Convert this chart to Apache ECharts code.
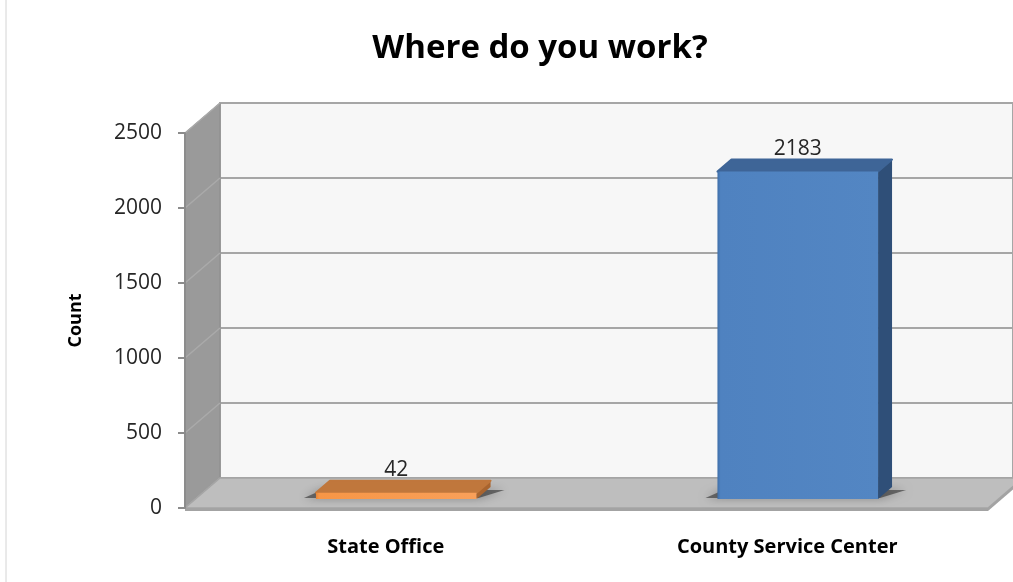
<!DOCTYPE html>
<html>
<head>
<meta charset="utf-8">
<script src="https://cdn.jsdelivr.net/npm/echarts@6/dist/echarts.min.js"></script>
<style>
  html, body { margin: 0; padding: 0; background: #ffffff; }
  #chart { width: 1013px; height: 582px; }
</style>
</head>
<body>
<div id="chart"></div>
<script>
// Survey answers: where respondents work
const categories = ['State Office', 'County Service Center'];
const counts = [42, 2183];
const yTicks = [0, 500, 1000, 1500, 2000, 2500];

// Colours for each bar: front face, top face, side face
const barPalette = [
  { front: ['#e58536', '#f79646', '#f9a05a'], top: '#c0773c', side: '#a9642e' },
  { front: ['#3f6fa9', '#4f82c0', '#5386c3'], top: '#3e6597', side: '#2f4f78' }
];

// Pseudo-3D depth of the plot box (pixels the back wall is shifted)
const DX = 35, DY = 30;
// Depth span occupied by the bars, as fractions of the box depth
const D_FRONT = 0.3, D_BACK = 0.7;
const BAR_RATIO = 0.4;
const FONT = "'Open Sans', 'Noto Sans', sans-serif";

const chart = echarts.init(document.getElementById('chart'), null, { renderer: 'canvas' });

const frontGrid = { left: 185, top: 133, width: 803, height: 375, show: false };
const backGrid = {
  left: frontGrid.left + DX, top: frontGrid.top - DY,
  width: frontGrid.width, height: frontGrid.height,
  show: true, backgroundColor: '#f7f7f7', borderColor: '#a6a6a6', borderWidth: 2
};

const yMin = yTicks[0], yMax = yTicks[yTicks.length - 1], yStep = yTicks[1] - yTicks[0];

// Side wall and floor of the box, built from the front axes
function renderFrame(params, api) {
  const cs = params.coordSys;
  const L = cs.x, R = cs.x + cs.width, T = cs.y, B = cs.y + cs.height;
  const children = [];
  children.push({
    type: 'polygon',
    shape: { points: [[L, T], [L + DX, T - DY], [L + DX, B - DY], [L, B]] },
    style: { fill: '#9a9a9a', stroke: '#8c8c8c', lineWidth: 1 }
  });
  yTicks.forEach(function (t) {
    const y = api.coord([0, t])[1];
    children.push({
      type: 'line',
      shape: { x1: L, y1: y, x2: L + DX, y2: y - DY },
      style: { stroke: '#aaaaaa', lineWidth: 1.5 }
    });
  });
  // floor slab: top, front edge, right edge
  children.push({
    type: 'polygon',
    shape: { points: [[L, B], [L + DX, B - DY], [R + DX, B - DY], [R, B]] },
    style: { fill: '#bebebe', stroke: '#a5a5a5', lineWidth: 1.5 }
  });
  children.push({
    type: 'polygon',
    shape: { points: [[L, B], [R, B], [R, B + 3], [L, B + 3]] },
    style: { fill: '#a3a3a3' }
  });
  children.push({
    type: 'polygon',
    shape: { points: [[R, B], [R + DX, B - DY], [R + DX, B - DY + 3], [R, B + 3]] },
    style: { fill: '#a3a3a3' }
  });
  return { type: 'group', children: children };
}

// Box-shaped bar with front, top and side faces plus a soft floor shadow
function renderBar(params, api) {
  const i = api.value(0), v = api.value(1);
  const base = api.coord([i, 0]);
  const top = api.coord([i, v]);
  const band = api.size([1, 0])[0];
  const w = band * BAR_RATIO;
  const fx = base[0] - w / 2 + D_FRONT * DX;
  const fy0 = base[1] - D_FRONT * DY;
  const fy1 = top[1] - D_FRONT * DY;
  const bx = (D_BACK - D_FRONT) * DX, by = (D_BACK - D_FRONT) * DY;
  const pal = barPalette[params.dataIndex];
  return {
    type: 'group',
    children: [
      {
        type: 'polygon',
        shape: { points: [[fx - 12, fy0 - 1], [fx + w + 2, fy0 - 1], [fx + w + bx + 14, fy0 - by + 3], [fx + bx - 8, fy0 - by + 3]] },
        style: { fill: 'rgba(35,35,35,0.55)', shadowBlur: 10, shadowColor: 'rgba(0,0,0,0.6)' }
      },
      {
        type: 'polygon',
        shape: { points: [[fx + w, fy1], [fx + w + bx, fy1 - by], [fx + w + bx, fy0 - by], [fx + w, fy0]] },
        style: { fill: pal.side }
      },
      {
        type: 'polygon',
        shape: { points: [[fx, fy1], [fx + w, fy1], [fx + w + bx, fy1 - by], [fx + bx, fy1 - by]] },
        style: { fill: pal.top, stroke: pal.top, lineWidth: 2, lineJoin: 'round' }
      },
      {
        type: 'rect',
        shape: { x: fx, y: fy1, width: w, height: Math.max(fy0 - fy1, 0) },
        style: {
          fill: new echarts.graphic.LinearGradient(0, 0, 1, 0, [
            { offset: 0, color: pal.front[0] },
            { offset: 0.02, color: pal.front[1] },
            { offset: 1, color: pal.front[2] }
          ])
        }
      },
      {
        type: 'text',
        style: {
          x: fx + w / 2, y: fy1 - by - 11,
          text: String(v),
          fill: '#262626', font: '21px ' + FONT,
          align: 'center', verticalAlign: 'middle'
        }
      }
    ]
  };
}

chart.setOption({
  animation: false,
  backgroundColor: '#ffffff',
  graphic: [
    {
      type: 'line', shape: { x1: 6, y1: 0, x2: 6, y2: 582 },
      style: { stroke: '#d4d4d4', lineWidth: 1 }, z: 0
    },
    {
      type: 'text', x: 540, y: 49,
      style: {
        text: 'Where do you work?', fill: '#000000',
        font: 'bold 33px ' + FONT, align: 'center', verticalAlign: 'middle'
      }
    }
  ],
  grid: [frontGrid, backGrid],
  xAxis: [
    {
      type: 'category', gridIndex: 0, data: categories,
      axisLine: { show: false }, axisTick: { show: false },
      axisLabel: { margin: 29, color: '#000000', fontFamily: FONT, fontWeight: 'bold', fontSize: 20 }
    },
    {
      type: 'category', gridIndex: 1, data: categories, show: false
    }
  ],
  yAxis: [
    {
      type: 'value', gridIndex: 0, min: yMin, max: yMax, interval: yStep, z: 6,
      name: 'Count', nameLocation: 'middle', nameRotate: 90, nameGap: 100,
      nameTextStyle: { color: '#000000', fontFamily: FONT, fontWeight: 'bold', fontSize: 18 },
      axisLine: { show: true, lineStyle: { color: '#8c8c8c', width: 2 } },
      axisTick: { show: true, length: 7, lineStyle: { color: '#8c8c8c', width: 2 } },
      axisLabel: {
        margin: 23, color: '#262626', fontFamily: FONT, fontSize: 21,
        formatter: function (val) { return String(val); }
      },
      splitLine: { show: false }
    },
    {
      type: 'value', gridIndex: 1, min: yMin, max: yMax, interval: yStep,
      axisLine: { show: false }, axisTick: { show: false }, axisLabel: { show: false },
      splitLine: { show: true, lineStyle: { color: '#a6a6a6', width: 2 } }
    }
  ],
  series: [
    {
      type: 'custom', name: 'frame', xAxisIndex: 0, yAxisIndex: 0, z: 1, clip: false,
      silent: true, data: [[0, 0]], renderItem: renderFrame
    },
    {
      type: 'custom', name: 'Count', xAxisIndex: 0, yAxisIndex: 0, z: 5, clip: false,
      data: counts.map(function (v, i) { return [i, v]; }), renderItem: renderBar
    }
  ]
});
</script>
</body>
</html>
